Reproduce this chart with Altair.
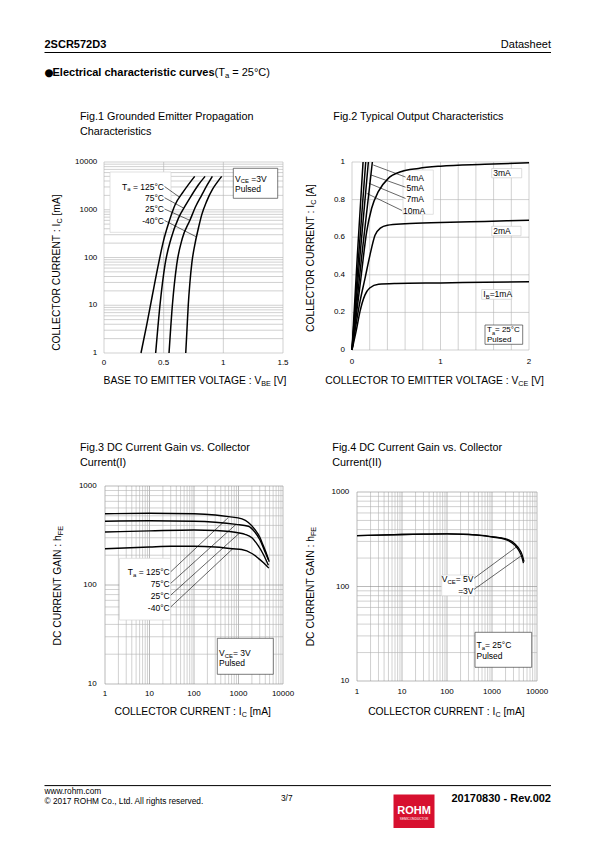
import altair as alt
import pandas as pd

M = 8  # page margin of the html body
FONT = "Liberation Sans"

# ---------------- Fig.1 : I_C [mA] vs V_BE [V] ----------------
f1_vbe_125 = [0.31, 0.358, 0.405, 0.455, 0.497, 0.545, 0.595, 0.665, 0.76]
f1_ic_125 = [1, 3.9, 16, 70, 215, 560, 1260, 2390, 5000]
f1_vbe_75 = [0.433, 0.469, 0.511, 0.562, 0.623, 0.68, 0.735, 0.79, 0.847]
f1_ic_75 = [1, 10, 70, 250, 660, 1200, 2030, 3300, 5000]
f1_vbe_25 = [0.545, 0.573, 0.609, 0.656, 0.721, 0.77, 0.819, 0.865, 0.908]
f1_ic_25 = [1, 10, 70, 250, 610, 1200, 2030, 3300, 5000]
f1_vbe_m40 = [0.685, 0.695, 0.706, 0.72, 0.737, 0.76, 0.79, 0.82, 0.86, 0.91, 0.95, 0.986]
f1_ic_m40 = [1, 3, 10, 30, 80, 180, 400, 800, 1500, 2700, 3800, 5000]
f1_x_ticks = [0, 0.5, 1, 1.5]
f1_x_labels = ["0", "0.5", "1", "1.5"]
f1_y_ticks = [1, 10, 100, 1000, 10000]
# leader lines (label end -> curve)
f1_lead_x1 = [0.507, 0.507, 0.507, 0.507]
f1_lead_y1 = [3070, 1790, 1037, 596]
f1_lead_x2 = [0.637, 0.668, 0.72, 0.775]
f1_lead_y2 = [1800, 1080, 600, 270]

# ---------------- Fig.2 : I_C [A] vs V_CE [V] ----------------
f2_v_1 = [0, 0.053, 0.09, 0.147, 0.2, 0.3, 0.5, 1.0, 1.5, 2.0]
f2_i_1 = [0, 0.115, 0.204, 0.293, 0.33, 0.35, 0.354, 0.357, 0.36, 0.363]
f2_v_2 = [0, 0.09, 0.147, 0.203, 0.26, 0.32, 0.4, 0.6, 1.0, 1.5, 2.0]
f2_i_2 = [0, 0.257, 0.381, 0.505, 0.61, 0.648, 0.663, 0.671, 0.678, 0.684, 0.69]
f2_v_3 = [0, 0.05, 0.1, 0.166, 0.222, 0.297, 0.41, 0.55, 0.75, 1.0, 1.5, 2.0]
f2_i_3 = [0, 0.19, 0.38, 0.63, 0.754, 0.842, 0.913, 0.948, 0.966, 0.978, 0.988, 0.996]
f2_v_4 = [0, 0.11, 0.23]
f2_i_4 = [0, 0.5, 1.0]
f2_v_5 = [0, 0.09, 0.185]
f2_i_5 = [0, 0.5, 1.0]
f2_v_7 = [0, 0.075, 0.155]
f2_i_7 = [0, 0.5, 1.0]
f2_v_10 = [0, 0.06, 0.125]
f2_i_10 = [0, 0.5, 1.0]
f2_x_ticks = [0, 1, 2]
f2_y_ticks = [0, 0.2, 0.4, 0.6, 0.8, 1]
f2_y_labels = ["0", "0.2", "0.4", "0.6", "0.8", "1"]
f2_lead_x1 = [0.24, 0.215, 0.19, 0.166]
f2_lead_y1 = [0.984, 0.931, 0.887, 0.833]
f2_lead_x2 = [0.605, 0.605, 0.605, 0.565]
f2_lead_y2 = [0.92, 0.866, 0.806, 0.742]

# ---------------- Fig.3 : hFE vs I_C [mA] (temperature) ----------------
f3_ic_125 = [1, 10, 100, 300, 600, 1200, 2350, 3000, 3600, 4300, 4900]
f3_h_125 = [525, 530, 525, 510, 490, 465, 362, 305, 250, 205, 172]
f3_ic_75 = [1, 10, 100, 300, 880, 1670, 2300, 3040, 3800, 4700]
f3_h_75 = [440, 445, 440, 430, 410, 392, 345, 285, 225, 180]
f3_ic_25 = [1, 10, 100, 300, 1040, 1400, 2000, 2790, 3700, 4700]
f3_h_25 = [343, 352, 360, 355, 335, 325, 300, 248, 200, 158]
f3_ic_m40 = [1, 10, 30, 100, 300, 740, 1180, 2000, 2790, 3700, 4800]
f3_h_m40 = [232, 242, 246, 246, 242, 232, 228, 208, 186, 167, 148]
f3_x_ticks = [1, 10, 100, 1000, 10000]
f3_y_ticks = [10, 100, 1000]
f3_lead_x1 = [30, 30, 30, 30]
f3_lead_y1 = [136, 104, 79, 60]
f3_lead_x2 = [590, 880, 1040, 740]
f3_lead_y2 = [480, 410, 333, 232]

# ---------------- Fig.4 : hFE vs I_C [mA] (V_CE) ----------------
f4_ic_5v = [1, 3, 10, 30, 100, 300, 600, 1000, 1950, 3240, 4060, 4710, 5150]
f4_h_5v = [345, 350, 355, 358, 360, 356, 348, 337, 322, 282, 248, 215, 183]
f4_ic_3v = [1, 3, 10, 30, 100, 300, 600, 1000, 1950, 3240, 4000, 4600, 5000]
f4_h_3v = [345, 350, 355, 358, 360, 355, 346, 334, 316, 272, 238, 205, 177]
f4_x_ticks = [1, 10, 100, 1000, 10000]
f4_y_ticks = [10, 100, 1000]
f4_lead_x1 = [398, 398]
f4_lead_y1 = [122, 93]
f4_lead_x2 = [3600, 4500]
f4_lead_y2 = [265, 212]

# ---------------- text metrics (Arial / Liberation Sans, per 1000 em) ----------------
AR = {c: 556 for c in "0123456789"}
AR.update({' ': 278, '!': 278, '(': 333, ')': 333, ',': 278, '-': 333, '.': 278, '/': 278,
           ':': 278, '=': 584, '[': 278, ']': 278, '°': 400, '©': 737, '●': 604,
           'A': 667, 'B': 667, 'C': 722, 'D': 722, 'E': 667, 'F': 611, 'G': 778, 'H': 722,
           'I': 278, 'J': 500, 'K': 667, 'L': 556, 'M': 833, 'N': 722, 'O': 778, 'P': 667,
           'Q': 778, 'R': 722, 'S': 667, 'T': 611, 'U': 722, 'V': 667, 'W': 944, 'X': 667,
           'Y': 667, 'Z': 611, 'a': 556, 'b': 556, 'c': 500, 'd': 556, 'e': 556, 'f': 278,
           'g': 556, 'h': 556, 'i': 222, 'j': 222, 'k': 500, 'l': 222, 'm': 833, 'n': 556,
           'o': 556, 'p': 556, 'q': 556, 'r': 333, 's': 500, 't': 278, 'u': 556, 'v': 500,
           'w': 722, 'x': 500, 'y': 500, 'z': 500})
ARB = dict(AR)
ARB.update({'b': 611, 'c': 556, 'd': 611, 'f': 333, 'g': 611, 'h': 611, 'i': 278, 'j': 278,
            'k': 556, 'l': 278, 'm': 889, 'n': 611, 'o': 611, 'p': 611, 'q': 611, 'r': 389,
            's': 556, 't': 333, 'u': 611, 'v': 556, 'w': 778, 'x': 556, 'y': 556, ':': 333,
            'A': 722, 'B': 722, 'K': 722, 'L': 611})


def tw(s, bold=False):
    tab = ARB if bold else AR
    return sum(tab.get(ch, 556) for ch in s) / 1000.0


SUB = 0.7
rows = []


def rich(x, y, pieces, fs, align="left", angle=0, bold=False, col="black", font=FONT):
    """pieces: list of (text, is_subscript); x, y in page coordinates (text centre line)."""
    if isinstance(pieces, str):
        pieces = [(pieces, 0)]
    ws = [tw(t, bold) * fs * (SUB if k else 1) for t, k in pieces]
    tot = sum(ws)
    off = 0 if align == "left" else (tot if align == "right" else tot / 2)
    starts = []
    cur = -off
    for w in ws:
        starts.append(cur)
        cur += w
    n = len(pieces)
    for i, ((t, k), w, st) in enumerate(zip(pieces, ws, starts)):
        sh = 0.3 * fs if k else 0
        size = fs * (SUB if k else 1)
        spw = 0.278 * size
        if n == 1:
            al, pos = align, 0
        elif align == "right" or (align == "center" and i == 0):
            trail = len(t) - len(t.rstrip(" "))
            al, pos = "right", st + w - trail * spw
        else:
            lead = len(t) - len(t.lstrip(" "))
            al, pos = "left", st + lead * spw
        t = t.strip(" ")
        if angle == 0:
            rows.append(dict(x=x + pos - M, y=y + sh - M, t=t, s=size, b=bold, r=0, al=al, col=col, f=font))
        else:
            rows.append(dict(x=x + sh - M, y=y - pos - M, t=t, s=size, b=bold, r=angle, al=al, col=col, f=font))


# header
rich(44.5, 45, "2SCR572D3", 11, bold=True)
rich(551, 45, "Datasheet", 11, align="right")
rich(44.2, 72.5, "●", 10.5, font="DejaVu Sans")
head_txt = "Electrical characteristic curves"
rich(52.5, 72.5, head_txt, 11, bold=True)
rich(52.5 + tw(head_txt, True) * 11, 72.5, [("(T", 0), ("a", 1), (" = 25°C)", 0)], 11)

# figure titles
TS = 10.8
rich(80, 117.3, "Fig.1 Grounded Emitter Propagation", TS)
rich(80, 131.8, "Characteristics", TS)
rich(333.3, 117.3, "Fig.2 Typical Output Characteristics", TS)
rich(80, 448.3, "Fig.3 DC Current Gain vs. Collector", TS)
rich(80, 463, "Current(I)", TS)
rich(332.3, 448.3, "Fig.4 DC Current Gain vs. Collector", TS)
rich(332.3, 463, "Current(II)", TS)

# axis titles
AS = 10.3
rich(194, 381.3, [("BASE TO EMITTER VOLTAGE : V", 0), ("BE", 1), (" [V]", 0)], AS, align="center")
rich(57, 272.8, [("COLLECTOR CURRENT : I", 0), ("C", 1), (" [mA]", 0)], AS, align="center", angle=270)
rich(433.5, 381, [("COLLECTOR TO EMITTER VOLTAGE : V", 0), ("CE", 1), (" [V]", 0)], AS, align="center")
rich(311, 258.3, [("COLLECTOR CURRENT : I", 0), ("C", 1), (" [A]", 0)], AS, align="center", angle=270)
rich(192.5, 711.5, [("COLLECTOR CURRENT : I", 0), ("C", 1), (" [mA]", 0)], AS, align="center")
rich(58, 585.8, [("DC CURRENT GAIN : h", 0), ("FE", 1)], AS, align="center", angle=270)
rich(446.2, 711.7, [("COLLECTOR CURRENT : I", 0), ("C", 1), (" [mA]", 0)], AS, align="center")
rich(311, 586.7, [("DC CURRENT GAIN : h", 0), ("FE", 1)], AS, align="center", angle=270)

# annotations
LS = 8.5
rich(164, 186.5, [("T", 0), ("a", 1), (" = 125°C", 0)], LS, align="right")
rich(164, 197.7, "75°C", LS, align="right")
rich(164, 209, "25°C", LS, align="right")
rich(164, 220.5, "-40°C", LS, align="right")
rich(235, 178.5, [("V", 0), ("CE", 1), (" =3V", 0)], LS)
rich(235, 189, "Pulsed", LS)

rich(406.5, 177.7, "4mA", LS)
rich(406.5, 187.7, "5mA", LS)
rich(406.5, 199, "7mA", LS)
rich(403, 211, "10mA", LS)
rich(493.3, 173.3, "3mA", LS)
rich(493.3, 231, "2mA", LS)
rich(483.3, 294.3, [("I", 0), ("B", 1), ("=1mA", 0)], LS)
rich(487, 330.2, [("T", 0), ("a", 1), ("= 25°C", 0)], 8)
rich(487, 339.6, "Pulsed", 8)

rich(169.7, 572, [("T", 0), ("a", 1), (" = 125°C", 0)], LS, align="right")
rich(169.7, 584, "75°C", LS, align="right")
rich(169.7, 595.8, "25°C", LS, align="right")
rich(169.7, 607.5, "-40°C", LS, align="right")
rich(219, 653.3, [("V", 0), ("CE", 1), ("= 3V", 0)], LS)
rich(219, 663.3, "Pulsed", LS)

rich(473.5, 579, [("V", 0), ("CE", 1), ("= 5V", 0)], LS, align="right")
rich(473.5, 590.7, "=3V", LS, align="right")
rich(476.5, 645, [("T", 0), ("a", 1), ("= 25°C", 0)], LS)
rich(476.5, 655.7, "Pulsed", LS)

# footer
rich(44.5, 792.1, "www.rohm.com", 8.3)
rich(44.5, 802, "© 2017 ROHM Co., Ltd. All rights reserved.", 8.3)
rich(281, 798.5, "3/7", 8.3)
rich(551, 798.5, "20170830 - Rev.002", 11, align="right", bold=True)
rich(414, 810.5, "ROHM", 11, align="center", bold=True, col="white")
rich(414, 818.5, "SEMICONDUCTOR", 3.2, align="center", col="white")


# ---------------- scales ----------------
def lin(d, r):
    return alt.Scale(type="linear", domain=d, range=r, nice=False, zero=False)


def lg(d, r):
    return alt.Scale(type="log", domain=d, range=r, nice=False)


S1x = lin([0, 1.5], [104 - M, 283 - M]); S1y = lg([1, 10000], [353 - M, 162 - M])
S2x = lin([0, 2], [352 - M, 529 - M]); S2y = lin([0, 1], [350 - M, 162 - M])
S3x = lg([1, 10000], [105 - M, 283 - M]); S3y = lg([10, 1000], [684 - M, 486 - M])
S4x = lg([1, 10000], [357 - M, 537 - M]); S4y = lg([10, 1000], [681 - M, 492 - M])


def log_vals(lo, hi):
    vals = [k * 10 ** n for n in range(lo, hi) for k in range(1, 10)]
    return vals + [10 ** hi]


def grid(sx, sy, xv, yv, xdom, ydom, xmaj, ymaj):
    vd = pd.DataFrame({"v": xv, "a": ydom[0], "b": ydom[1],
                       "c": ["#8c8c8c" if v in xmaj else "#b2b2b2" for v in xv]})
    hd = pd.DataFrame({"v": yv, "a": xdom[0], "b": xdom[1],
                       "c": ["#8c8c8c" if v in ymaj else "#b2b2b2" for v in yv]})
    l1 = alt.Chart(vd).mark_rule(strokeWidth=0.6).encode(
        x=alt.X("v:Q", scale=sx, axis=None), y=alt.Y("a:Q", scale=sy, axis=None), y2="b:Q",
        color=alt.Color("c:N", scale=None, legend=None))
    l2 = alt.Chart(hd).mark_rule(strokeWidth=0.6).encode(
        y=alt.Y("v:Q", scale=sy, axis=None), x=alt.X("a:Q", scale=sx, axis=None), x2="b:Q",
        color=alt.Color("c:N", scale=None, legend=None))
    return [l1, l2]


def curves(sx, sy, series, width):
    recs = []
    for name, xs, ys in series:
        for i, (a, b) in enumerate(zip(xs, ys)):
            recs.append({"x": a, "y": b, "s": name, "o": i})
    return alt.Chart(pd.DataFrame(recs)).mark_line(
        interpolate="monotone", color="black", strokeWidth=width).encode(
        x=alt.X("x:Q", scale=sx, axis=None), y=alt.Y("y:Q", scale=sy, axis=None),
        detail="s:N", order="o:Q")


def leaders(sx, sy, x1, y1, x2, y2):
    d = pd.DataFrame({"x": x1, "y": y1, "x2": x2, "y2": y2})
    return alt.Chart(d).mark_rule(color="black", strokeWidth=0.6).encode(
        x=alt.X("x:Q", scale=sx, axis=None), y=alt.Y("y:Q", scale=sy, axis=None),
        x2="x2:Q", y2="y2:Q")


def xlabels(sx, vals, labs, ypage):
    d = pd.DataFrame({"v": vals, "t": labs})
    return alt.Chart(d).mark_text(font=FONT, fontSize=8, align="center", baseline="middle").encode(
        x=alt.X("v:Q", scale=sx, axis=None), y=alt.value(ypage - M), text="t:N")


def ylabels(sy, vals, labs, xpage):
    d = pd.DataFrame({"v": vals, "t": labs})
    return alt.Chart(d).mark_text(font=FONT, fontSize=8, align="right", baseline="middle").encode(
        y=alt.Y("v:Q", scale=sy, axis=None), x=alt.value(xpage - M), text="t:N")


layers = []
# grids
layers += grid(S1x, S1y, f1_x_ticks, log_vals(0, 4), [0, 1.5], [1, 10000], [], [])
layers += grid(S2x, S2y, [round(0.2 * i, 1) for i in range(11)], f2_y_ticks, [0, 2], [0, 1], [], [])
layers += grid(S3x, S3y, log_vals(0, 4), log_vals(1, 3), [1, 10000], [10, 1000],
               [1, 10, 100, 1000, 10000], [10, 100, 1000])
layers += grid(S4x, S4y, log_vals(0, 4), log_vals(1, 3), [1, 10000], [10, 1000],
               [1, 10, 100, 1000, 10000], [10, 100, 1000])

# white annotation boxes (page coordinates)
box_x1 = [110, 233.3, 403, 491.7, 491.7, 481.7, 485, 119.5, 217.3, 441.7, 475]
box_y1 = [172, 168.3, 170, 168.5, 226.3, 289.5, 325, 558.3, 638.3, 575, 632.3]
box_x2 = [171, 277.7, 433.3, 521.7, 521, 511.7, 522.7, 170.5, 273.3, 475, 531.7]
box_y2 = [232.3, 198.3, 214.3, 177.8, 235.8, 299.3, 344.3, 620, 674.3, 595.7, 667.3]
box_stroke = ["#d4d4d4", "#444444", "#d4d4d4", "#cfcfcf", "#cfcfcf", "#cfcfcf", "#444444",
              "#d4d4d4", "#444444", "#d4d4d4", "#444444"]
bd = pd.DataFrame({"x": [v - M for v in box_x1], "y": [v - M for v in box_y1],
                   "x2": [v - M for v in box_x2], "y2": [v - M for v in box_y2], "sc": box_stroke})
layers.append(alt.Chart(bd).mark_rect(fill="white", strokeWidth=0.7).encode(
    x=alt.X("x:Q", scale=None, axis=None), y=alt.Y("y:Q", scale=None, axis=None),
    x2="x2:Q", y2="y2:Q", stroke=alt.Stroke("sc:N", scale=None, legend=None)))

# curves
layers.append(curves(S1x, S1y, [("125", f1_vbe_125, f1_ic_125), ("75", f1_vbe_75, f1_ic_75),
                                 ("25", f1_vbe_25, f1_ic_25), ("-40", f1_vbe_m40, f1_ic_m40)], 1.5))
layers.append(curves(S2x, S2y, [("1", f2_v_1, f2_i_1), ("2", f2_v_2, f2_i_2), ("3", f2_v_3, f2_i_3),
                                 ("4", f2_v_4, f2_i_4), ("5", f2_v_5, f2_i_5), ("7", f2_v_7, f2_i_7),
                                 ("10", f2_v_10, f2_i_10)], 1.5))
layers.append(curves(S3x, S3y, [("125", f3_ic_125, f3_h_125), ("75", f3_ic_75, f3_h_75),
                                 ("25", f3_ic_25, f3_h_25), ("-40", f3_ic_m40, f3_h_m40)], 1.4))
layers.append(curves(S4x, S4y, [("5", f4_ic_5v, f4_h_5v), ("3", f4_ic_3v, f4_h_3v)], 1.3))

# leader lines
layers.append(leaders(S1x, S1y, f1_lead_x1, f1_lead_y1, f1_lead_x2, f1_lead_y2))
layers.append(leaders(S2x, S2y, f2_lead_x1, f2_lead_y1, f2_lead_x2, f2_lead_y2))
layers.append(leaders(S3x, S3y, f3_lead_x1, f3_lead_y1, f3_lead_x2, f3_lead_y2))
layers.append(leaders(S4x, S4y, f4_lead_x1, f4_lead_y1, f4_lead_x2, f4_lead_y2))

# tick labels
layers.append(xlabels(S1x, f1_x_ticks, f1_x_labels, 363.3))
layers.append(ylabels(S1y, f1_y_ticks, [str(v) for v in f1_y_ticks], 97.3))
layers.append(xlabels(S2x, f2_x_ticks, [str(v) for v in f2_x_ticks], 361.7))
layers.append(ylabels(S2y, f2_y_ticks, f2_y_labels, 345))
layers.append(xlabels(S3x, f3_x_ticks, [str(v) for v in f3_x_ticks], 694))
layers.append(ylabels(S3y, f3_y_ticks, [str(v) for v in f3_y_ticks], 96.7))
layers.append(xlabels(S4x, f4_x_ticks, [str(v) for v in f4_x_ticks], 691.7))
layers.append(ylabels(S4y, f4_y_ticks, [str(v) for v in f4_y_ticks], 349.3))

# header / footer rules and logo
rule_x1 = [44.5, 44.5]
rule_x2 = [551, 551]
rule_y = [52.5, 785.6]
rd = pd.DataFrame({"x": [v - M for v in rule_x1], "x2": [v - M for v in rule_x2], "y": [v - M for v in rule_y]})
layers.append(alt.Chart(rd).mark_rule(color="black", strokeWidth=1).encode(
    x=alt.X("x:Q", scale=None, axis=None), x2="x2:Q", y=alt.Y("y:Q", scale=None, axis=None)))
logo = pd.DataFrame({"x": [393.5 - M], "x2": [434.5 - M], "y": [794.5 - M], "y2": [828 - M]})
layers.append(alt.Chart(logo).mark_rect(color="#d7102f").encode(
    x=alt.X("x:Q", scale=None, axis=None), x2="x2:Q", y=alt.Y("y:Q", scale=None, axis=None), y2="y2:Q"))

# all texts
tdf = pd.DataFrame(rows)
for (b, r, al, f), g in tdf.groupby(["b", "r", "al", "f"]):
    layers.append(alt.Chart(g.reset_index(drop=True)).mark_text(
        font=f, baseline="middle", align=al, angle=int(r),
        fontWeight="bold" if b else "normal").encode(
        x=alt.X("x:Q", scale=None, axis=None), y=alt.Y("y:Q", scale=None, axis=None),
        text="t:N", size=alt.Size("s:Q", scale=None, legend=None),
        color=alt.Color("col:N", scale=None, legend=None)))

chart = alt.layer(*layers).resolve_scale(
    x="independent", y="independent", color="independent", size="independent", stroke="independent"
).properties(
    width=579, height=826, padding=0, autosize=alt.AutoSizeParams(type="none")
).configure_view(strokeWidth=0)

chart.save("out.html", embed_options={"renderer": "svg", "actions": False})
